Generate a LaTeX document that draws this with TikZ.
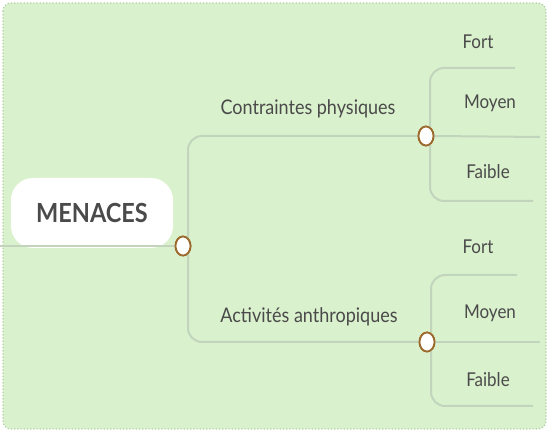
\documentclass[tikz,border=0pt]{standalone}
\usepackage{fontspec}
\setmainfont{Lato}
\usetikzlibrary{shapes.geometric}
\definecolor{bgfill}{HTML}{DAF1CD}
\definecolor{bgborder}{HTML}{B3CBA6}
\definecolor{branch}{HTML}{C2D5BC}
\definecolor{txt}{HTML}{4A4A4A}
\definecolor{knob}{HTML}{9C6A2C}
\newcommand{\tallt}[1]{\scalebox{1}[1.12]{#1}}
\tikzset{
  bgbox/.style={fill=bgfill, draw=bgborder, dotted, line width=1.2pt, rounded corners=8pt},
  root/.style={fill=white, rounded corners=22pt, minimum width=162pt, minimum height=70pt, inner sep=0pt, text=txt, font=\fontsize{23.5}{28}\selectfont\bfseries},
  knobnode/.style={ellipse, draw=knob, line width=1.8pt, fill=white, minimum width=15pt, minimum height=19pt, inner sep=0pt},
  lbl/.style={text=txt, font=\fontsize{18}{21}\selectfont, inner sep=0pt},
  leaf/.style={text=txt, font=\fontsize{17}{20}\selectfont, inner sep=0pt},
  conn/.style={draw=branch, line width=2pt, rounded corners=14pt},
}
\begin{document}
\begin{tikzpicture}[x=1pt,y=-1pt]
\useasboundingbox (0,0) rectangle (550,433);
\draw[bgbox] (3,3) rectangle (546,429);
% root
\coordinate (lend) at (0,246);
\node[root] (menaces) at (92,213) {\tallt{MENACES}};
\node[knobnode] (k0) at (183,246) {};
\draw[conn] (lend) -- (k0.west);
% level 1
\node[knobnode] (k1) at (426,136) {};
\node[knobnode] (k2) at (427,342) {};
\node[lbl] (t1) at (308,109) {\tallt{Contraintes physiques}};
\node[lbl] (t2) at (309,317) {\tallt{Activités anthropiques}};
\coordinate (k0top) at (188,238);
\coordinate (k0bot) at (188,254);
\draw[conn] (k0top) |- (k1.west);
\draw[conn] (k0bot) |- (k2.west);
% level 2 upper
\coordinate (a1) at (515,68);
\coordinate (a2) at (540,137);
\coordinate (a3) at (533,201);
\coordinate (k1top) at (430,128);
\coordinate (k1bot) at (430,144);
\draw[conn] (k1top) |- (a1);
\draw[conn] (k1.east) -- (a2);
\draw[conn] (k1bot) |- (a3);
\node[leaf] (f1) at (478,42) {\tallt{Fort}};
\node[leaf] (m1) at (490,103) {\tallt{Moyen}};
\node[leaf] (b1) at (488,172) {\tallt{Faible}};
% level 2 lower
\coordinate (c1) at (517,275);
\coordinate (c2) at (540,342);
\coordinate (c3) at (533,406);
\coordinate (k2top) at (431,334);
\coordinate (k2bot) at (431,350);
\draw[conn] (k2top) |- (c1);
\draw[conn] (k2.east) -- (c2);
\draw[conn] (k2bot) |- (c3);
\node[leaf] (f2) at (478,247) {\tallt{Fort}};
\node[leaf] (m2) at (490,313) {\tallt{Moyen}};
\node[leaf] (b2) at (488,380) {\tallt{Faible}};
% redraw knobs on top
\node[knobnode] at (k0) {};
\node[knobnode] at (k1) {};
\node[knobnode] at (k2) {};
\end{tikzpicture}
\end{document}
